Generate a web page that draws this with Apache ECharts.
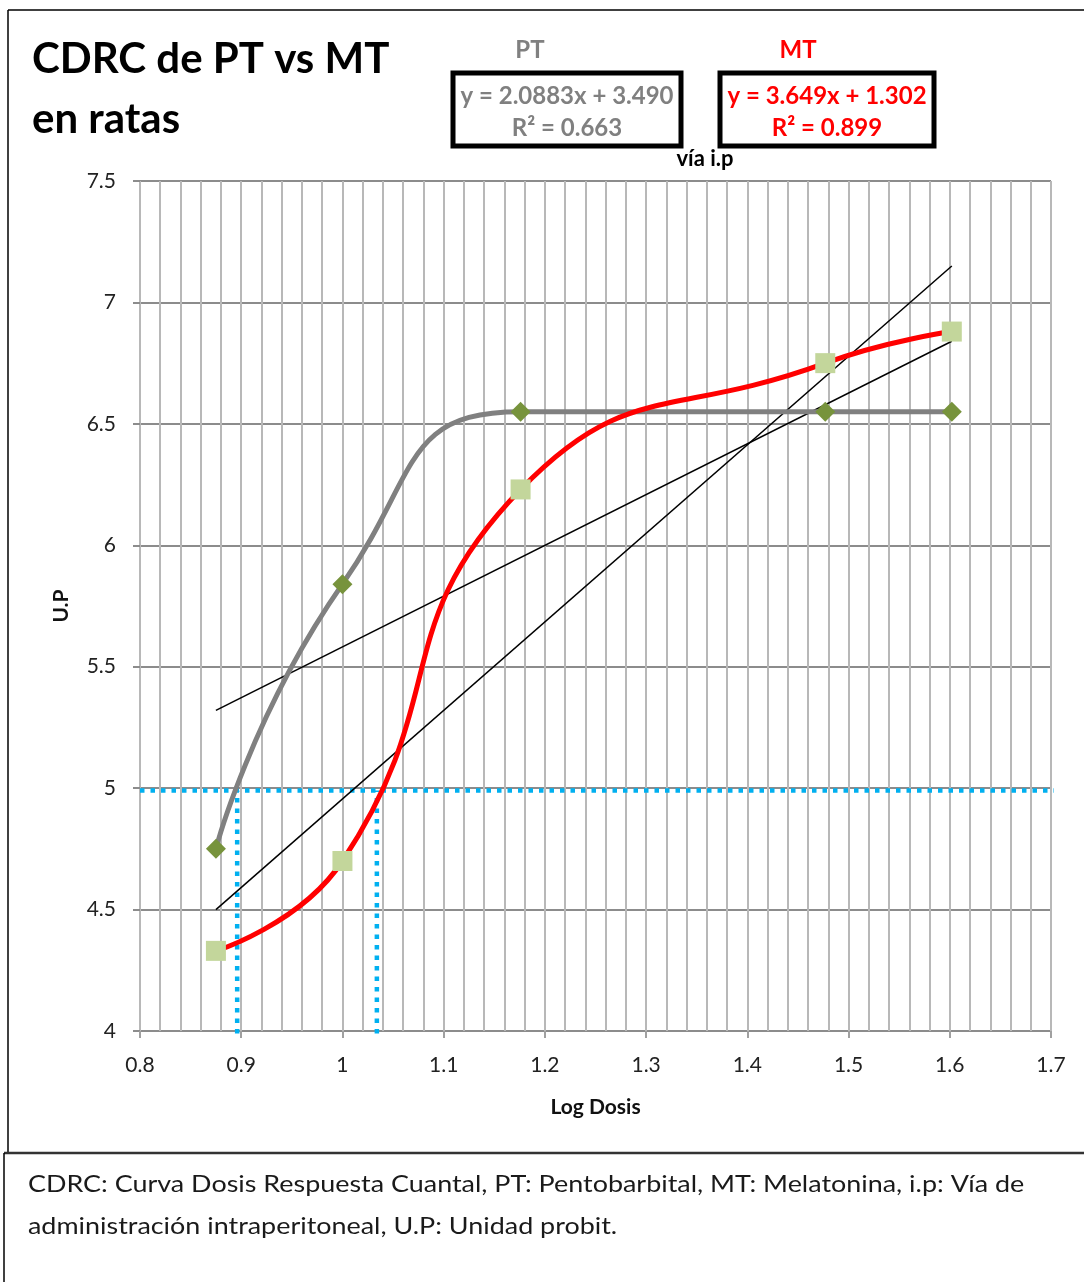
<!DOCTYPE html>
<html>
<head>
<meta charset="utf-8">
<script src="https://cdn.jsdelivr.net/npm/echarts@6/dist/echarts.min.js"></script>
<style>
  html, body { margin: 0; padding: 0; background: #fff; }
  #chart { width: 1084px; height: 1282px; }
</style>
</head>
<body>
<div id="chart"></div>
<script>
// log dosis
const logDosis = [0.875, 1.0, 1.176, 1.477, 1.602];
// unidades probit
const ptValues = [4.75, 5.84, 6.55, 6.55, 6.55];
const mtValues = [4.33, 4.70, 6.23, 6.75, 6.88];
// lineas de tendencia (extremos)
const ptTrendX = [0.875, 1.602];
const ptTrendY = [5.32, 6.84];
const mtTrendX = [0.875, 1.602];
const mtTrendY = [4.50, 7.15];
// DE50 (lineas punteadas)
const ed50Y = 4.99;
const ed50Pt = 0.896;
const ed50Mt = 1.034;
const ed50LineEnd = 1.706;

const font = "Lato, 'Open Sans', sans-serif";

const pairs = (xs, ys) => xs.map((x, i) => [x, ys[i]]);

const dotted = {
  color: "#00b0f0",
  width: 4.5,
  type: [4.5, 6],
};

const myChart = echarts.init(document.getElementById("chart"));
let option = {
  backgroundColor: "#fff",
  animation: false,
  textStyle: { fontFamily: font },
  grid: { left: 140, right: 33, top: 181, bottom: 251 },
  xAxis: {
    type: "value",
    min: 0.8,
    max: 1.7,
    interval: 0.1,
    name: "Log Dosis",
    nameLocation: "middle",
    nameGap: 66,
    nameTextStyle: { fontSize: 21, fontWeight: "bold", color: "#111", fontFamily: font },
    axisLine: { show: false },
    axisTick: { show: true, length: 7, lineStyle: { color: "#a0a0a0", width: 2 } },
    axisLabel: {
      fontSize: 21,
      color: "#222",
      margin: 24,
      fontFamily: font,
      formatter: (v) => String(Math.round(v * 10) / 10),
    },
    splitLine: { show: true, lineStyle: { color: "#b8b8b8", width: 2 } },
    minorTick: { show: false, splitNumber: 5 },
    minorSplitLine: { show: true, lineStyle: { color: "#b8b8b8", width: 2 } },
  },
  yAxis: {
    type: "value",
    min: 4,
    max: 7.5,
    interval: 0.5,
    name: "U.P",
    nameLocation: "middle",
    nameGap: 68,
    nameRotate: 90,
    nameTextStyle: { fontSize: 21, fontWeight: "bold", color: "#111", fontFamily: font },
    axisLine: { show: false },
    axisTick: { show: true, length: 7, lineStyle: { color: "#8c8c8c", width: 2 } },
    axisLabel: { fontSize: 21, color: "#222", margin: 24, fontFamily: font },
    splitLine: { show: true, lineStyle: { color: "#8c8c8c", width: 2 } },
  },
  title: [
    {
      text: "CDRC de PT vs MT\nen ratas",
      left: 27,
      top: 24,
      textStyle: { fontSize: 42, fontWeight: "bold", color: "#000", lineHeight: 60, fontFamily: font },
    },
    {
      text: "PT",
      left: 525,
      top: 33,
      textAlign: "center",
      textStyle: { fontSize: 24, fontWeight: "bold", color: "#808080", fontFamily: font },
    },
    {
      text: "MT",
      left: 793,
      top: 33,
      textAlign: "center",
      textStyle: { fontSize: 24, fontWeight: "bold", color: "#ff0000", fontFamily: font },
    },
    {
      text: "vía i.p",
      left: 700,
      top: 143,
      textAlign: "center",
      textStyle: { fontSize: 22, fontWeight: "bold", color: "#000", fontFamily: font },
    },
  ],
  graphic: [
    // marco del grafico
    { type: "line", shape: { x1: 8, y1: 10, x2: 1084, y2: 10 }, style: { stroke: "#000", lineWidth: 1.5 } },
    { type: "line", shape: { x1: 8, y1: 10, x2: 8, y2: 1153 }, style: { stroke: "#000", lineWidth: 1.5 } },
    { type: "line", shape: { x1: 4, y1: 1153, x2: 1084, y2: 1153 }, style: { stroke: "#333", lineWidth: 2.5 } },
    { type: "line", shape: { x1: 4, y1: 1153, x2: 4, y2: 1282 }, style: { stroke: "#000", lineWidth: 1.5 } },
    // cajas de ecuaciones
    {
      type: "rect",
      shape: { x: 453, y: 73, width: 228, height: 73 },
      style: { fill: "#fff", stroke: "#000", lineWidth: 5 },
    },
    {
      type: "text",
      x: 567,
      y: 80,
      style: {
        text: "y = 2.0883x + 3.490\nR² = 0.663",
        fill: "#808080",
        font: "bold 24px " + font,
        align: "center",
        lineHeight: 32,
      },
    },
    {
      type: "rect",
      shape: { x: 720, y: 73, width: 214, height: 73 },
      style: { fill: "#fff", stroke: "#000", lineWidth: 5 },
    },
    {
      type: "text",
      x: 827,
      y: 80,
      style: {
        text: "y = 3.649x + 1.302\nR² = 0.899",
        fill: "#ff0000",
        font: "bold 24px " + font,
        align: "center",
        lineHeight: 32,
      },
    },
    // nota al pie
    {
      type: "text",
      x: 28,
      y: 1164,
      scaleX: 1.17,
      style: {
        text: "CDRC: Curva Dosis Respuesta Cuantal, PT: Pentobarbital, MT: Melatonina, i.p: Vía de\nadministración intraperitoneal, U.P: Unidad probit.",
        fill: "#1a1a1a",
        font: "23px " + font,
        lineHeight: 42,
      },
    },
  ],
  series: [
    {
      name: "DE50",
      type: "line",
      data: [[0.8, ed50Y], [ed50LineEnd, ed50Y]],
      symbol: "none",
      clip: false,
      lineStyle: dotted,
      z: 2,
    },
    {
      name: "DE50 PT",
      type: "line",
      data: [[ed50Pt, 3.99], [ed50Pt, ed50Y]],
      symbol: "none",
      clip: false,
      lineStyle: dotted,
      z: 2,
    },
    {
      name: "DE50 MT",
      type: "line",
      data: [[ed50Mt, 3.99], [ed50Mt, ed50Y]],
      symbol: "none",
      clip: false,
      lineStyle: dotted,
      z: 2,
    },
    {
      name: "Tendencia PT",
      type: "line",
      data: pairs(ptTrendX, ptTrendY),
      symbol: "none",
      lineStyle: { color: "#000", width: 1.5 },
      z: 3,
    },
    {
      name: "Tendencia MT",
      type: "line",
      data: pairs(mtTrendX, mtTrendY),
      symbol: "none",
      lineStyle: { color: "#000", width: 1.5 },
      z: 3,
    },
    {
      name: "PT",
      type: "line",
      data: pairs(logDosis, ptValues),
      smooth: 0.55,
      symbol: "diamond",
      symbolSize: 20,
      itemStyle: { color: "#77933c" },
      lineStyle: { color: "#808080", width: 5 },
      z: 4,
    },
    {
      name: "MT",
      type: "line",
      data: pairs(logDosis, mtValues),
      smooth: 0.5,
      symbol: "rect",
      symbolSize: 20,
      itemStyle: { color: "#c3d69b" },
      lineStyle: { color: "#ff0000", width: 5 },
      z: 5,
    },
  ],
};

option && myChart.setOption(option);
window.addEventListener("resize", function () {
  myChart.resize();
});
</script>
</body>
</html>
